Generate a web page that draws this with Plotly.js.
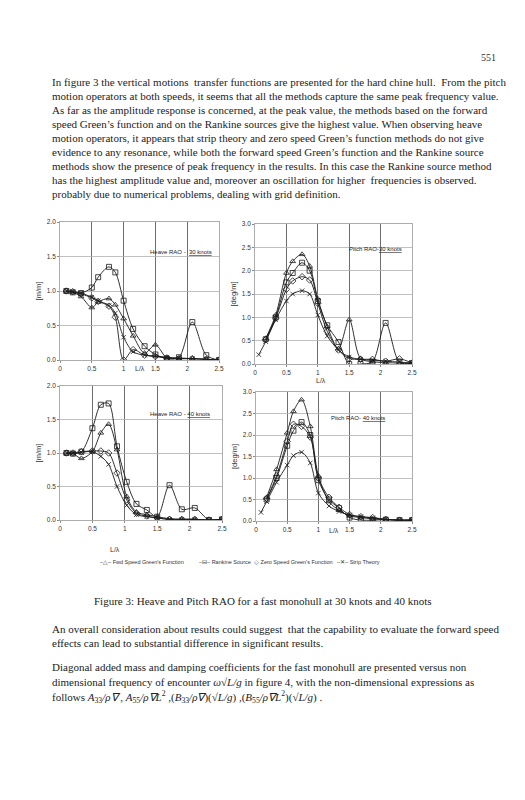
<!DOCTYPE html>
<html><head><meta charset="utf-8">
<script src="https://cdn.plot.ly/plotly-3.0.1.min.js"></script>
<style>html,body{margin:0;padding:0;background:#fff;}#fig{width:525px;height:800px;}</style>
</head><body><div id="fig"></div>
<script>
// ---------- DATA ----------
const seriesNames = ["Fwd Speed Green's Function", "Rankine Source", "Zero Speed Green's Function", "Strip Theory"];
const xTickVals = [0, 0.5, 1, 1.5, 2, 2.5];
const xTickText = ["0", "0.5", "1", "1.5", "2", "2.5"];
const heaveTickVals = [0, 0.5, 1, 1.5, 2];
const pitchTickVals = [0, 0.5, 1, 1.5, 2, 2.5, 3];

// Heave RAO - 30 knots
const heave30X       = [0.1, 0.2, 0.33, 0.5, 0.6, 0.77, 0.87, 1.0, 1.15, 1.33, 1.5, 1.68, 1.87, 2.08, 2.3, 2.5];
const heave30Fwd     = [1.00, 0.98, 0.92, 0.76, 0.84, 0.89, 0.80, 0.60, 0.35, 0.10, 0.22, 0.03, 0.02, 0.02, 0.01, 0.00];
const heave30Rankine = [1.00, 0.98, 0.97, 1.05, 1.20, 1.35, 1.27, 0.86, 0.45, 0.20, 0.08, 0.02, 0.04, 0.55, 0.07, 0.00];
const heave30Zero    = [1.00, 0.99, 0.96, 0.90, 0.85, 0.78, 0.62, 0.00, 0.15, 0.07, 0.05, 0.03, 0.02, 0.02, 0.01, 0.00];
const heave30Strip   = [1.00, 0.99, 0.97, 0.91, 0.86, 0.79, 0.68, 0.33, 0.12, 0.07, 0.06, 0.04, 0.03, 0.02, 0.01, 0.00];

// Pitch RAO - 30 knots
const pitch30X       = [0.06, 0.17, 0.33, 0.5, 0.6, 0.75, 0.87, 1.0, 1.15, 1.33, 1.5, 1.68, 1.87, 2.08, 2.3, 2.5];
const pitch30Fwd     = [null, 0.55, 1.05, 1.95, 2.20, 2.35, 2.10, 1.40, 0.80, 0.33, 0.95, 0.12, 0.05, 0.03, 0.02, 0.02];
const pitch30Rankine = [null, 0.53, 1.00, 1.75, 1.95, 2.17, 2.00, 1.35, 0.83, 0.47, 0.00, 0.00, 0.05, 0.88, 0.04, 0.02];
const pitch30Zero    = [null, 0.52, 0.98, 1.60, 1.78, 1.87, 1.80, 1.30, 0.70, 0.30, 0.12, 0.10, 0.10, 0.06, 0.11, 0.02];
const pitch30Strip   = [0.20, 0.48, 0.95, 1.35, 1.50, 1.57, 1.50, 1.05, 0.60, 0.30, 0.15, 0.10, 0.08, 0.06, 0.04, 0.02];

// Heave RAO - 40 knots
const heave40X       = [0.1, 0.2, 0.33, 0.5, 0.63, 0.75, 0.88, 1.03, 1.18, 1.34, 1.5, 1.69, 1.88, 2.08, 2.3, 2.5];
const heave40Fwd     = [1.00, 0.99, 0.92, 1.02, 1.30, 1.43, 1.05, 0.35, 0.12, 0.08, 0.05, 0.02, 0.01, 0.01, 0.00, 0.01];
const heave40Rankine = [1.00, 0.99, 1.02, 1.37, 1.72, 1.74, 1.10, 0.57, 0.24, 0.15, 0.05, 0.52, 0.16, 0.18, 0.00, 0.01];
const heave40Zero    = [1.00, 1.00, 1.02, 1.03, 1.03, 1.00, 0.70, 0.30, 0.10, 0.06, 0.03, 0.01, 0.01, 0.01, 0.00, 0.01];
const heave40Strip   = [1.00, 1.00, 1.01, 1.02, 0.95, 0.83, 0.50, 0.22, 0.08, 0.05, 0.03, 0.01, 0.01, 0.01, 0.00, 0.01];

// Pitch RAO - 40 knots
const pitch40X       = [0.08, 0.17, 0.33, 0.5, 0.6, 0.73, 0.87, 1.0, 1.17, 1.33, 1.5, 1.68, 1.87, 2.08, 2.3, 2.5];
const pitch40Fwd     = [null, 0.55, 1.20, 2.05, 2.55, 2.82, 2.20, 1.05, 0.45, 0.25, 0.12, 0.08, 0.05, 0.03, 0.02, 0.02];
const pitch40Rankine = [null, 0.50, 1.00, 1.75, 2.10, 2.30, 2.00, 0.95, 0.50, 0.30, 0.08, 0.02, 0.02, 0.03, 0.02, 0.02];
const pitch40Zero    = [null, 0.52, 1.05, 1.85, 2.25, 2.20, 1.95, 1.00, 0.55, 0.32, 0.15, 0.10, 0.08, 0.04, 0.02, 0.02];
const pitch40Strip   = [0.20, 0.45, 0.90, 1.30, 1.52, 1.60, 1.35, 0.65, 0.35, 0.22, 0.14, 0.10, 0.07, 0.04, 0.02, 0.02];

const para1 = [
  "In figure 3 the vertical motions  transfer functions are presented for the hard chine hull.  From the pitch",
  "motion operators at both speeds, it seems that all the methods capture the same peak frequency value.",
  "As far as the amplitude response is concerned, at the peak value, the methods based on the forward",
  "speed Green\u2019s function and on the Rankine sources give the highest value. When observing heave",
  "motion operators, it appears that strip theory and zero speed Green\u2019s function methods do not give",
  "evidence to any resonance, while both the forward speed Green\u2019s function and the Rankine source",
  "methods show the presence of peak frequency in the results. In this case the Rankine source method",
  "has the highest amplitude value and, moreover an oscillation for higher  frequencies is observed.",
  "probably due to numerical problems, dealing with grid definition."
];
const caption = "Figure 3: Heave and Pitch RAO for a fast monohull at 30 knots and 40 knots";
const para2 = [
  "An overall consideration about results could suggest  that the capability to evaluate the forward speed",
  "effects can lead to substantial difference in significant results."
];
const para3 = [
  "Diagonal added mass and damping coefficients for the fast monohull are presented versus non",
  "dimensional frequency of encounter <i>\u03c9\u221aL/g</i> in figure 4, with the non-dimensional expressions as",
  "follows <i>A</i><sub>33</sub><i>/\u03c1\u2207</i> , <i>A</i><sub>55</sub><i>/\u03c1\u2207L</i><sup>2</sup> ,(<i>B</i><sub>33</sub><i>/\u03c1\u2207</i>)(<i>\u221aL/g</i>) ,(<i>B</i><sub>55</sub><i>/\u03c1\u2207L</i><sup>2</sup>)(<i>\u221aL/g</i>) ."
];
const pageNumber = "551";

// ---------- LAYOUT HELPERS ----------
const W = 525, H = 800;
const px = (a, b) => [a / W, b / W];
const py = (top, bottom) => [1 - bottom / H, 1 - top / H];
const ink = "#1a1a1a";
const chartFont = {family: "Liberation Sans, Arial, sans-serif", size: 6.5, color: "#333"};
const serif = "Liberation Serif, Times New Roman, serif";

const symbols = ["triangle-up-open", "square-open", "diamond-open", "x-thin-open"];
function makeTraces(x, ys, xa, ya) {
  return ys.map((y, i) => ({
    type: "scatter", mode: "lines+markers", x: x, y: y, xaxis: xa, yaxis: ya,
    name: seriesNames[i], showlegend: false, connectgaps: false,
    line: {color: ink, width: 0.9, shape: "spline", smoothing: 0.9},
    marker: {symbol: symbols[i], size: i === 3 ? 4.5 : 5, color: ink, line: {color: ink, width: 0.8}}
  }));
}
const data = [].concat(
  makeTraces(heave30X, [heave30Fwd, heave30Rankine, heave30Zero, heave30Strip], "x", "y"),
  makeTraces(pitch30X, [pitch30Fwd, pitch30Rankine, pitch30Zero, pitch30Strip], "x2", "y2"),
  makeTraces(heave40X, [heave40Fwd, heave40Rankine, heave40Zero, heave40Strip], "x3", "y3"),
  makeTraces(pitch40X, [pitch40Fwd, pitch40Rankine, pitch40Zero, pitch40Strip], "x4", "y4")
);

function xAxis(dom, anchor) {
  return {domain: dom, anchor: anchor, range: [0, 2.5], tickvals: xTickVals, ticktext: xTickText,
    showgrid: true, gridcolor: "#4a4a4a", gridwidth: 0.8, zeroline: false,
    showline: true, linecolor: "#999", linewidth: 0.8, mirror: true,
    ticks: "outside", ticklen: 2, tickcolor: "#888", tickfont: chartFont};
}
function yAxis(dom, anchor, range, vals, title) {
  return {domain: dom, anchor: anchor, range: range, tickvals: vals, tickformat: ".1f",
    showgrid: true, gridcolor: "#b0b0b0", gridwidth: 0.8, zeroline: false,
    showline: true, linecolor: "#999", linewidth: 0.8, mirror: true,
    ticks: "outside", ticklen: 2, tickcolor: "#888", tickfont: chartFont,
    title: {text: title, font: {family: chartFont.family, size: 7.5, color: "#333"}, standoff: 4}};
}

const annotations = [];
function txt(text, x, y, opts) {
  annotations.push(Object.assign({text: text, x: x / W, y: 1 - y / H, xref: "paper", yref: "paper",
    showarrow: false, xanchor: "left", yanchor: "middle",
    font: {family: serif, size: 11, color: "#222"}}, opts || {}));
}
txt(pageNumber, 498, 57, {xanchor: "right", font: {family: serif, size: 10, color: "#333"}});
para1.forEach((l, i) => txt(l, 50, 82 + i * 14));
txt(caption, 263, 601, {xanchor: "center"});
para2.forEach((l, i) => txt(l, 50, 629 + i * 14));
para3.forEach((l, i) => txt(l, 50, 667 + i * 15));

// chart labels
function chartTxt(text, xref, x, y, opts) {
  annotations.push(Object.assign({text: text, xref: xref, x: x, yref: "paper", y: 1 - y / H,
    showarrow: false, xanchor: "center", yanchor: "middle",
    font: {family: chartFont.family, size: 7, color: "#333"}}, opts || {}));
}
chartTxt("L/\u03bb", "x", 1.25, 369);
chartTxt("L/\u03bb", "x2", 1.05, 380);
chartTxt("L/\u03bb", "x3", 0.85, 549);
chartTxt("L/\u03bb", "x4", 1.25, 530);
const und = s => "<span style='text-decoration:underline'>" + s + "</span>";
chartTxt("Heave RAO -  " + und("30 knots"), "x", 2.42, 252, {xanchor: "right", font: {family: chartFont.family, size: 6, color: "#222"}});
chartTxt("Pitch RAO-" + und("30 knots"), "x2", 2.38, 249, {xanchor: "right", font: {family: chartFont.family, size: 6, color: "#222"}});
chartTxt("Heave RAO - " + und("40 knots"), "x3", 2.35, 414, {xanchor: "right", font: {family: chartFont.family, size: 6, color: "#222"}});
chartTxt("Pitch RAO- " + und("40 knots"), "x4", 2.1, 418, {xanchor: "right", font: {family: chartFont.family, size: 6, color: "#222"}});

// legend row
const legendY = 562;
const legFont = {family: chartFont.family, size: 5.5, color: "#333"};
txt("\u2013\u25b3\u2013 " + seriesNames[0], 98, legendY, {font: legFont});
txt("\u2013\u229f\u2013 " + seriesNames[1], 197, legendY, {font: legFont});
txt("\u25c7 " + seriesNames[2], 252, legendY, {font: legFont});
txt("\u2013\u2715\u2013 " + seriesNames[3], 335, legendY, {font: legFont});

const layout = {
  width: W, height: H, margin: {l: 0, r: 0, t: 0, b: 0},
  paper_bgcolor: "#fff", plot_bgcolor: "#fff", showlegend: false,
  xaxis: xAxis(px(60, 219), "y"),
  yaxis: yAxis(py(222, 360), "x", [0, 2], heaveTickVals, "[m/m]"),
  xaxis2: xAxis(px(255, 412), "y2"),
  yaxis2: yAxis(py(224, 364), "x2", [0, 3], pitchTickVals, "[deg/m]"),
  xaxis3: xAxis(px(60, 222), "y3"),
  yaxis3: yAxis(py(386, 520), "x3", [0, 2], heaveTickVals, "[m/m]"),
  xaxis4: xAxis(px(256, 412), "y4"),
  yaxis4: yAxis(py(392, 521), "x4", [0, 3], pitchTickVals, "[deg/m]"),
  annotations: annotations
};
Plotly.newPlot("fig", data, layout, {staticPlot: true, displayModeBar: false});
</script>
</body></html>
